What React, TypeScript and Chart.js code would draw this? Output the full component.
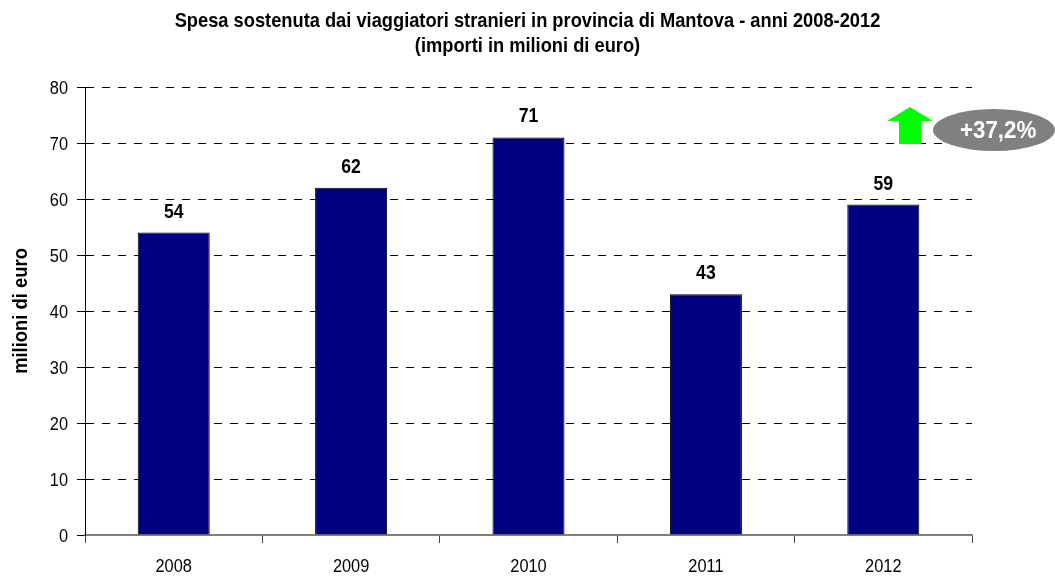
import React, { useEffect, useRef } from "react";
import { Chart, registerables } from "chart.js";

Chart.register(...registerables);

const years = ["2008", "2009", "2010", "2011", "2012"];
const spesa = [54, 62, 71, 43, 59];
const titleLines = [
  "Spesa sostenuta dai viaggiatori stranieri in provincia di Mantova - anni 2008-2012",
  "(importi in milioni di euro)",
];
const yAxisTitle = "milioni di euro";
const badgeText = "+37,2%";

const FONT = "'Liberation Sans', Arial, sans-serif";

function narrowText(
  ctx: CanvasRenderingContext2D,
  text: string,
  x: number,
  y: number,
  sx: number,
  align: "left" | "center" | "right"
) {
  ctx.save();
  ctx.translate(x, y);
  ctx.scale(sx, 1);
  ctx.textAlign = align;
  ctx.fillText(text, 0, 0);
  ctx.restore();
}

const decorPlugin = {
  id: "decor",
  afterDraw(chart: any) {
    const ctx = chart.ctx as CanvasRenderingContext2D;
    const area = chart.chartArea;
    const xs = chart.scales.x;
    const ys = chart.scales.y;
    ctx.save();
    ctx.fillStyle = "#000";
    ctx.textBaseline = "alphabetic";

    // Title
    ctx.font = `bold 21px ${FONT}`;
    const cx = chart.width / 2;
    narrowText(ctx, titleLines[0], cx, 27, 0.87, "center");
    narrowText(ctx, titleLines[1], cx, 52, 0.87, "center");

    // Y axis title
    ctx.save();
    ctx.translate(27, (area.top + area.bottom) / 2);
    ctx.rotate(-Math.PI / 2);
    ctx.font = `bold 20px ${FONT}`;
    narrowText(ctx, yAxisTitle, 0, 0, 0.92, "center");
    ctx.restore();

    // Y tick labels
    ctx.font = `19px ${FONT}`;
    ys.ticks.forEach((t: any) => {
      const py = ys.getPixelForValue(t.value);
      narrowText(ctx, String(t.value), area.left - 17, py + 7, 0.86, "right");
    });

    // X tick labels
    years.forEach((lab, i) => {
      const px = xs.getPixelForTick(i);
      narrowText(ctx, lab, px, area.bottom + 37, 0.86, "center");
    });

    // Data labels
    const meta = chart.getDatasetMeta(0);
    ctx.font = `bold 21px ${FONT}`;
    meta.data.forEach((bar: any, i: number) => {
      narrowText(ctx, String(spesa[i]), bar.x, bar.y - 15, 0.84, "center");
    });

    // Arrow + badge
    const ax = area.right - 62;
    const ay = area.top + 20;
    ctx.fillStyle = "#00ff00";
    ctx.beginPath();
    ctx.moveTo(ax - 23, ay + 14);
    ctx.lineTo(ax, ay);
    ctx.lineTo(ax + 23, ay + 14);
    ctx.lineTo(ax + 11, ay + 14);
    ctx.lineTo(ax + 11, ay + 37);
    ctx.lineTo(ax - 11, ay + 37);
    ctx.lineTo(ax - 11, ay + 14);
    ctx.closePath();
    ctx.fill();

    ctx.fillStyle = "#808080";
    ctx.beginPath();
    ctx.ellipse(area.right + 22, area.top + 43, 61, 21, 0, 0, Math.PI * 2);
    ctx.fill();
    ctx.save();
    ctx.beginPath();
    ctx.rect(area.right - 20, area.top, 86, 60);
    ctx.clip();
    ctx.fillStyle = "#ffffff";
    ctx.font = `bold 23px ${FONT}`;
    narrowText(ctx, badgeText, area.right - 12, area.top + 51, 0.97, "left");
    ctx.restore();
    ctx.restore();
  },
};

export default function App() {
  const ref = useRef<HTMLCanvasElement>(null);
  useEffect(() => {
    document.body.style.margin = "0";
    const chart = new Chart(ref.current!, {
      type: "bar",
      data: {
        labels: years,
        datasets: [
          {
            data: spesa,
            backgroundColor: "#000080",
            borderColor: "#000000",
            borderWidth: 1,
            borderSkipped: "bottom",
            barPercentage: 0.406,
            categoryPercentage: 1,
          },
        ],
      },
      options: {
        responsive: false,
        animation: false,
        layout: { padding: { top: 87, right: 83, left: 0, bottom: 0 } },
        plugins: {
          legend: { display: false },
          title: { display: false },
          tooltip: { enabled: false },
        },
        scales: {
          x: {
            offset: true,
            afterFit(scale: any) {
              scale.height = 42;
            },
            grid: {
              offset: true,
              drawOnChartArea: false,
              drawTicks: true,
              tickLength: 8,
              tickColor: "#444",
            },
            border: { display: true, color: "#808080", width: 2 },
            ticks: { display: false },
          },
          y: {
            min: 0,
            max: 80,
            afterFit(scale: any) {
              scale.width = 85;
            },
            ticks: { stepSize: 10, display: false },
            grid: {
              color: "#000",
              tickBorderDash: [],
              tickLength: 8,
              tickColor: "#000",
            } as any,
            border: { display: true, color: "#000", width: 1, dash: [8, 8] },
          },
        },
      },
      plugins: [decorPlugin],
    } as any);
    return () => chart.destroy();
  }, []);
  return (
    <div style={{ width: 1055, height: 577 }}>
      <canvas ref={ref} width={1055} height={577} style={{ display: "block" }} />
    </div>
  );
}
